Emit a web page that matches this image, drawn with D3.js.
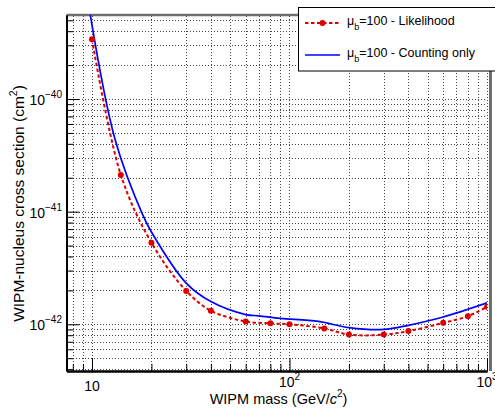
<!DOCTYPE html>
<html><head><meta charset="utf-8">
<script src="https://cdn.jsdelivr.net/npm/d3@7"></script>
<style>body{margin:0;background:#fff} text{font-family:"Liberation Sans",Arial,Helvetica,sans-serif;fill:#000}</style>
</head><body><svg id="c" width="495" height="414"></svg>
<script>
// ---- data ----
const massLikelihood = [10, 14, 20, 30, 40, 60, 80, 100, 150, 200, 300, 400, 600, 800, 1000];
const sigmaLikelihood = [3.4e-40, 2.12e-41, 5.3e-42, 1.98e-42, 1.32e-42, 1.06e-42, 1.02e-42, 1.0e-42, 9.2e-43, 8.1e-43, 8.1e-43, 8.7e-43, 1.03e-42, 1.18e-42, 1.43e-42];
const massCounting = [9.8, 13.1, 18, 20, 30, 40, 60, 70, 90, 140, 200, 300, 400, 600, 1000];
const sigmaCounting = [5.6e-40, 4.35e-41, 9.5e-42, 6.6e-42, 2.32e-42, 1.59e-42, 1.22e-42, 1.19e-42, 1.13e-42, 1.06e-42, 9.35e-43, 9.0e-43, 9.8e-43, 1.16e-42, 1.55e-42];
const xMajorTicks = [10, 100, 1000];
const xTickLabels = [["10", ""], ["10", "2"], ["10", "3"]];
const xMinorTicks = [8, 9, 20, 30, 40, 50, 60, 70, 80, 90, 200, 300, 400, 500, 600, 700, 800, 900];
const yMajorTicks = [1e-42, 1e-41, 1e-40];
const yTickLabels = [["10", "\u221242"], ["10", "\u221241"], ["10", "\u221240"]];
const yMinorTicks = [4e-43, 5e-43, 6e-43, 7e-43, 8e-43, 9e-43, 2e-42, 3e-42, 4e-42, 5e-42, 6e-42, 7e-42, 8e-42, 9e-42,
  2e-41, 3e-41, 4e-41, 5e-41, 6e-41, 7e-41, 8e-41, 9e-41, 2e-40, 3e-40, 4e-40, 5e-40];
const legendLabels = ["=100 - Likelihood", "=100 - Counting only"];
const xTitle = ["WIPM mass (GeV/", "c", "2", ")"];
const yTitle = ["WIPM-nucleus cross section (cm", "2", ")"];

// ---- layout ----
const L = 66.5, R = 487, T = 15, B = 371;
const svg = d3.select("#c");
svg.append("rect").attr("width", 495).attr("height", 414).attr("fill", "#fff");
const x = d3.scaleLog().domain([7.43, 1000]).range([L, R]);
const y = d3.scaleLog().domain([3.85e-43, 5.57e-40]).range([B, T]);

// grid
const allX = xMajorTicks.concat(xMinorTicks), allY = yMajorTicks.concat(yMinorTicks);
const gx = svg.append("g").attr("transform", `translate(0,${B})`)
  .call(d3.axisBottom(x).tickValues(allX).tickSize(-(B - T)).tickFormat(""));
const gy = svg.append("g").attr("transform", `translate(${L},0)`)
  .call(d3.axisLeft(y).tickValues(allY).tickSize(-(R - L)).tickFormat(""));
[gx, gy].forEach(g => {
  g.select(".domain").remove();
  g.selectAll("line").attr("stroke", "#444").attr("stroke-width", 1).attr("stroke-dasharray", "1,2").attr("shape-rendering", "crispEdges");
});

// frame shadow (top and right)
svg.append("line").attr("x1", L).attr("x2", R + 5).attr("y1", T).attr("y2", T).attr("stroke", "#6e6e6e").attr("stroke-width", 2.5);
svg.append("line").attr("x1", R + 3.5).attr("x2", R + 3.5).attr("y1", T).attr("y2", B).attr("stroke", "#6e6e6e").attr("stroke-width", 3);

// axes
function styleAxis(g) { g.selectAll("line,path").attr("stroke", "#000"); g.select(".domain").attr("stroke-width", 1.8); }
svg.append("g").attr("transform", `translate(0,${B})`).call(d3.axisBottom(x).tickValues(xMinorTicks).tickSizeInner(-7).tickSizeOuter(0).tickFormat("")).call(styleAxis);
svg.append("g").attr("transform", `translate(0,${B})`).call(d3.axisBottom(x).tickValues(xMajorTicks).tickSizeInner(-13).tickSizeOuter(0).tickFormat("")).call(styleAxis);
svg.append("g").attr("transform", `translate(${L},0)`).call(d3.axisLeft(y).tickValues(yMinorTicks).tickSizeInner(-7).tickSizeOuter(0).tickFormat("")).call(styleAxis);
svg.append("g").attr("transform", `translate(${L},0)`).call(d3.axisLeft(y).tickValues(yMajorTicks).tickSizeInner(-13).tickSizeOuter(0).tickFormat("")).call(styleAxis);

// tick labels
xMajorTicks.forEach((v, i) => {
  const hasSup = !!xTickLabels[i][1];
  const t = svg.append("text").attr("x", x(v)).attr("y", hasSup ? B + 16 : B + 20).attr("text-anchor", "middle").attr("font-size", 14);
  t.append("tspan").text(xTickLabels[i][0]);
  if (hasSup) t.append("tspan").attr("font-size", 10).attr("dy", -7).text(xTickLabels[i][1]);
});
yMajorTicks.forEach((v, i) => {
  const t = svg.append("text").attr("x", 62).attr("y", y(v) + 6).attr("text-anchor", "end").attr("font-size", 14);
  t.append("tspan").text(yTickLabels[i][0]);
  t.append("tspan").attr("font-size", 10).attr("dy", -7).text(yTickLabels[i][1]);
});

// titles
const xt = svg.append("text").attr("x", 278.5).attr("y", 404).attr("text-anchor", "middle").attr("font-size", 14.5);
xt.append("tspan").text(xTitle[0]);
xt.append("tspan").attr("font-style", "italic").text(xTitle[1]);
xt.append("tspan").attr("font-size", 10).attr("dy", -7).text(xTitle[2]);
xt.append("tspan").attr("dy", 7).text(xTitle[3]);
const yt = svg.append("text").attr("transform", "translate(24,203.5) rotate(-90)").attr("text-anchor", "middle").attr("font-size", 15.5);
yt.append("tspan").text(yTitle[0]);
yt.append("tspan").attr("font-size", 10.5).attr("dy", -7).text(yTitle[1]);
yt.append("tspan").attr("dy", 7).text(yTitle[2]);

// data
svg.append("clipPath").attr("id", "clip").append("rect").attr("x", L).attr("y", T).attr("width", R - L).attr("height", B - T);
const plot = svg.append("g").attr("clip-path", "url(#clip)");
const cnt = massCounting.map((m, i) => [m, sigmaCounting[i]]);
const lik = massLikelihood.map((m, i) => [m, sigmaLikelihood[i]]);
plot.append("path").datum(cnt).attr("fill", "none").attr("stroke", "#0000ff").attr("stroke-width", 1.7)
  .attr("d", d3.line().x(d => x(d[0])).y(d => y(d[1])).curve(d3.curveCatmullRom.alpha(0.5)));
plot.append("path").datum(lik).attr("fill", "none").attr("stroke", "#dd0000").attr("stroke-width", 2).attr("stroke-dasharray", "3.5,2.5")
  .attr("d", d3.line().x(d => x(d[0])).y(d => y(d[1])).curve(d3.curveCatmullRom.alpha(0.5)));
plot.selectAll("circle").data(lik).join("circle").attr("cx", d => x(d[0])).attr("cy", d => y(d[1])).attr("r", 3).attr("fill", "#dd0000");

// legend
const lg = svg.append("g");
lg.append("rect").attr("x", 298.5).attr("y", 7.5).attr("width", 210).attr("height", 63.5).attr("fill", "#fff").attr("stroke", "#000");
const ly = [23, 55];
lg.append("line").attr("x1", 305).attr("x2", 340).attr("y1", ly[0]).attr("y2", ly[0]).attr("stroke", "#dd0000").attr("stroke-width", 2).attr("stroke-dasharray", "3.5,2.5");
lg.append("circle").attr("cx", 322.5).attr("cy", ly[0]).attr("r", 3).attr("fill", "#dd0000");
lg.append("line").attr("x1", 305).attr("x2", 340).attr("y1", ly[1]).attr("y2", ly[1]).attr("stroke", "#0000ff").attr("stroke-width", 1.7);
legendLabels.forEach((s, i) => {
  const t = lg.append("text").attr("x", 347).attr("y", ly[i] + 2).attr("font-size", 12.5);
  t.append("tspan").text("\u03bc");
  t.append("tspan").attr("font-size", 9).attr("dy", 5).text("b");
  t.append("tspan").attr("dy", -5).text(s);
});
</script></body></html>
